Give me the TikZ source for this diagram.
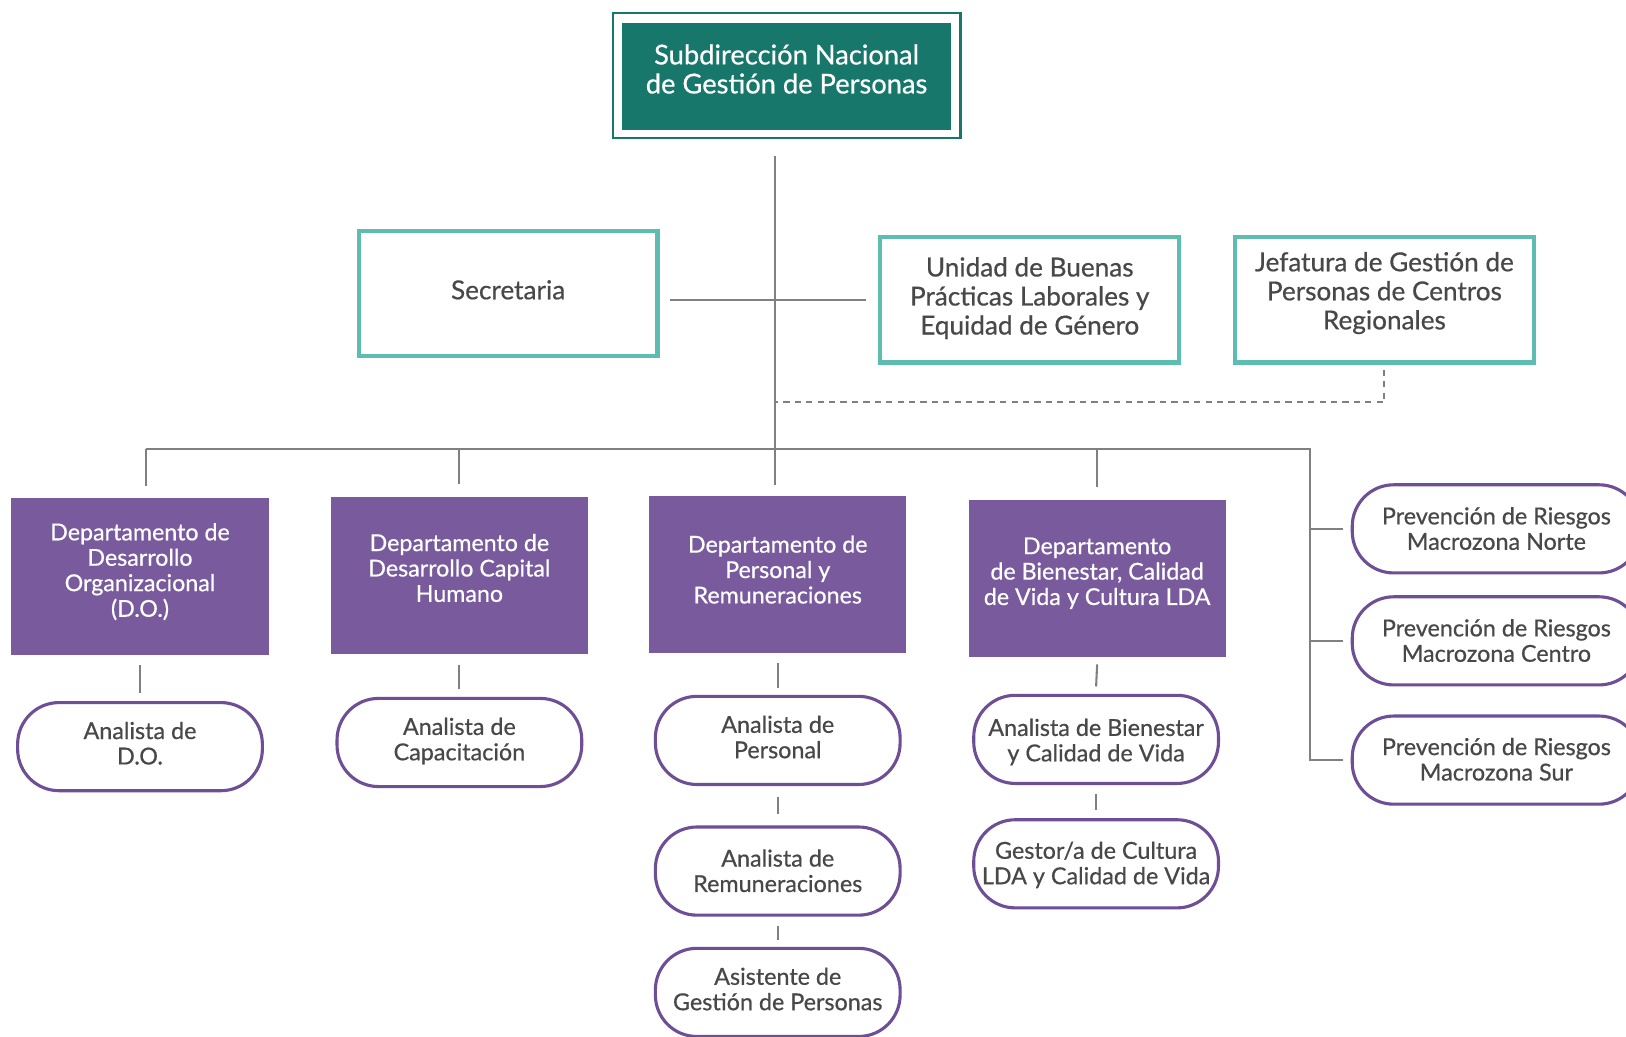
\documentclass[tikz,border=0pt]{standalone}
\usepackage{fontspec}
\setmainfont{Lato}[FakeBold=0.6]
\definecolor{tealdark}{HTML}{16776A}
\definecolor{teallight}{HTML}{5DBDB0}
\definecolor{purfill}{HTML}{785A9D}
\definecolor{purline}{HTML}{6E4F96}
\definecolor{txtgray}{HTML}{484848}
\definecolor{lngray}{HTML}{808080}
% #1 = how far the text block sits above the node centre
\newcommand{\mlines}[2][0pt]{\raisebox{0pt}[\dimexpr\height-#1\relax][\dimexpr\depth+#1\relax]{\begin{tabular}{@{}c@{}}#2\end{tabular}}}
\begin{document}
\begin{tikzpicture}[x=1pt,y=-1pt,
  topbox/.style={fill=tealdark,text=white,minimum width=317pt,minimum height=103pt,inner sep=0pt,font=\fontsize{26.3}{28}\selectfont},
  topframe/.style={draw=tealdark,line width=2pt},
  unitbox/.style={draw=teallight,line width=4pt,fill=white,text=txtgray,minimum width=288pt,minimum height=121pt,inner sep=0pt,font=\fontsize{25.2}{28}\selectfont},
  deptbox/.style={fill=purfill,text=white,minimum width=248pt,minimum height=151pt,inner sep=0pt,font=\fontsize{22.4}{24.5}\selectfont},
  pill/.style={draw=purline,line width=3pt,fill=white,text=txtgray,rounded corners=40pt,minimum width=236pt,minimum height=85pt,inner sep=0pt,font=\fontsize{22.5}{24.5}\selectfont},
  widepill/.style={pill,minimum width=278pt},
  conn/.style={draw=lngray,line width=2pt},
  dashconn/.style={draw=lngray,line width=2pt,dash pattern=on 6pt off 5pt}]
\useasboundingbox (0,0) rectangle (1568,1000);
\clip (0,0) rectangle (1568,1000);
\fill[white] (0,0) rectangle (1568,1000);

% top
\node[topbox] (sub) at (758.5,73.5) {\mlines[3pt]{Subdirección Nacional\\de Gestión de Personas}};
\draw[topframe] ([xshift=-9pt,yshift=9pt]sub.north west) rectangle ([xshift=9pt,yshift=-8pt]sub.south east);

% staff units
\node[unitbox] (sec) at (490,283) {\mlines{Secretaria}};
\node[unitbox] (ubp) at (993,289) {\mlines{Unidad de Buenas\\Prácticas Laborales y\\Equidad de Género}};
\node[unitbox] (jef) at (1335,289) {\mlines[5pt]{Jefatura de Gestión de\\Personas de Centros\\Regionales}};

% departments
\node[deptbox] (ddo) at (135,556) {\mlines[3pt]{Departamento de\\Desarrollo\\Organizacional\\(D.O.)}};
\node[deptbox] (dch) at (443,555) {\mlines[4pt]{Departamento de\\Desarrollo Capital\\Humano}};
\node[deptbox] (dpr) at (750,554) {\mlines[1.5pt]{Departamento de\\Personal y\\Remuneraciones}};
\node[deptbox] (dbc) at (1058,558) {\mlines[4pt]{Departamento\\de Bienestar, Calidad\\de Vida y Cultura LDA}};

% pills
\node[pill] (ado) at (135,720) {\mlines{Analista de\\D.O.}};
\node[pill] (acap) at (443,716) {\mlines{Analista de\\Capacitación}};
\node[pill] (aper) at (750,714) {\mlines{Analista de\\Personal}};
\node[pill] (arem) at (750,840) {\mlines[-3pt]{Analista de\\Remuneraciones}};
\node[pill] (agp) at (750,957) {\mlines{Asistente de\\Gestión de Personas}};
\node[pill] (abie) at (1057,713) {\mlines[-4pt]{Analista de Bienestar\\y Calidad de Vida}};
\node[pill] (gcul) at (1057,833) {\mlines[-2.5pt]{Gestor/a de Cultura\\LDA y Calidad de Vida}};
\node[widepill] (prn) at (1443,510) {\mlines[-3pt]{Prevención de Riesgos\\Macrozona Norte}};
\node[widepill] (prc) at (1443,618) {\mlines[-3pt]{Prevención de Riesgos\\Macrozona Centro}};
\node[widepill] (prs) at (1443,733) {\mlines[-2.5pt]{Prevención de Riesgos\\Macrozona Sur}};

% connectors
\coordinate (t0) at (747,150);
\coordinate (barL) at (141,433);
\coordinate (barR) at (1263,433);
\coordinate (dashY) at (747,388);
\draw[conn] (t0) -- ([yshift=11pt]t0 |- dpr.north);
\draw[conn] ([xshift=10pt]sec.east |- ubp.west) -- ([xshift=-12pt]ubp.west);
\draw[dashconn] ([yshift=-5pt]jef.south) -- (jef.south |- dashY) -- (dashY);
\draw[conn] (barL) -- (barR) -- (barR |- prs.west) -- ([xshift=-7pt]prs.west);
\draw[conn] (barR |- prn.west) -- ([xshift=-7pt]prn.west);
\draw[conn] (barR |- prc.west) -- ([xshift=-7pt]prc.west);
\draw[conn] (barL) -- ([yshift=12pt]barL |- ddo.north);
\draw[conn] (dch.north |- barL) -- ([yshift=13pt]dch.north);
\draw[conn] (dbc.north |- barL) -- ([yshift=13pt]dbc.north);
\draw[conn] ([yshift=-10pt]ddo.south) -- ([yshift=8pt]ado.north);
\draw[conn] ([yshift=-11pt]dch.south) -- ([yshift=8pt]acap.north);
\draw[conn] ([yshift=-10pt]dpr.south) -- ([yshift=7pt]aper.north);
\draw[conn] ([yshift=-11pt]aper.south) -- ([yshift=11pt]arem.north);
\draw[conn] ([yshift=-9pt]arem.south) -- ([yshift=7pt]agp.north);
\draw[conn] ([yshift=-7pt]dbc.south) -- ([yshift=7pt]abie.north);
\draw[conn] ([yshift=-9pt]abie.south) -- ([yshift=8pt]gcul.north);
\end{tikzpicture}
\end{document}
